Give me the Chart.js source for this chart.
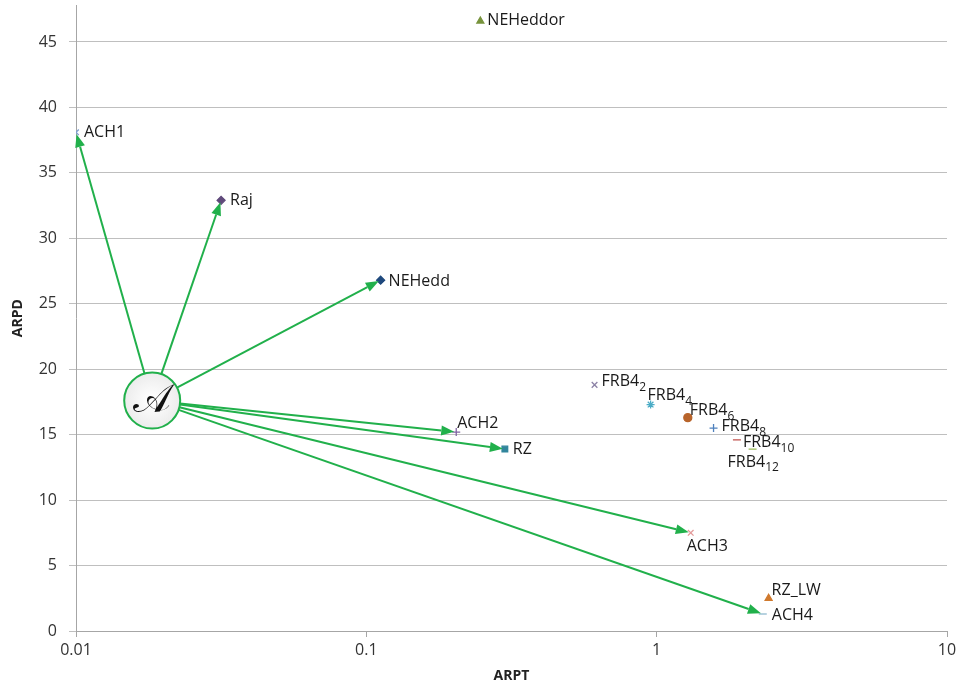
<!DOCTYPE html>
<html>
<head>
<meta charset="utf-8">
<script src="https://cdn.jsdelivr.net/npm/chart.js@4.4.0/dist/chart.umd.min.js"></script>
<style>
html, body { margin: 0; padding: 0; background: #fff; }
#wrap { width: 959px; height: 688px; }
</style>
</head>
<body>
<div id="wrap"><canvas id="chart"></canvas></div>
<script>
// point data
var labelMain = ["NEHeddor","ACH1","Raj","NEHedd","FRB4","FRB4","FRB4","FRB4","FRB4","FRB4","ACH2","RZ","ACH3","RZ_LW","ACH4"];
var labelSub  = ["","","","","2","4","6","8","10","12","","","","",""];
var arpt = [0.247, 0.01, 0.0316, 0.112, 0.611, 0.953, 1.28, 1.57, 1.89, 2.14, 0.204, 0.30, 1.31, 2.43, 2.32];
var arpd = [46.6, 38.1, 32.9, 26.8, 18.8, 17.3, 16.3, 15.5, 14.6, 13.9, 15.2, 13.9, 7.5, 2.5, 1.3];
var xTicks = [0.01, 0.1, 1, 10];

// the arrows go from the A hub to these points
var arrowTargets = ["ACH1","Raj","NEHedd","ACH2","RZ","ACH3","ACH4"];
var hubX = 0.0183, hubY = 17.6;

// marker look for each point
var markerStyle = ['triangle','crossRot','rectRot','rectRot','crossRot','star','circle','cross','line','line','cross','rect','crossRot','triangle','line'];
var markerColor = ['#77933c','#7f9fcf','#604a7b','#1f497d','#8c82a6','#4bacc6','#b8642b','#4f81bd','#c0504d','#9bbb59','#8064a2','#31859c','#e39a9a','#d07a2e','#9fc3d6'];
// label offsets in pixels from the marker
var labelDx = [7, 8, 9, 8, 7, -3, 2, 8, 6, -25, 1, 8, -4, 3, 9];
var labelDy = [-1, 0, 0, 1, -3, -9, -7, -2, 3, 13, -9, 0, 14, -8, 1];

var FONT = "'Open Sans', 'Liberation Sans', sans-serif";
var GREEN = '#21b04b';

var points = [];
for (var i = 0; i < arpt.length; i++) {
  points.push({x: arpt[i], y: arpd[i]});
}

function drawArrow(ctx, x0, y0, x1, y1) {
  var a = Math.atan2(y1 - y0, x1 - x0);
  var hl = 13, hw = 5;
  var bx = x1 - hl * Math.cos(a), by = y1 - hl * Math.sin(a);
  ctx.beginPath();
  ctx.moveTo(x0, y0);
  ctx.lineTo(bx, by);
  ctx.stroke();
  ctx.beginPath();
  ctx.moveTo(x1, y1);
  ctx.lineTo(bx + hw * Math.sin(a), by - hw * Math.cos(a));
  ctx.lineTo(bx - hw * Math.sin(a), by + hw * Math.cos(a));
  ctx.closePath();
  ctx.fill();
}

var annotate = {
  id: 'annotate',
  afterDatasetsDraw: function(chart) {
    var ctx = chart.ctx;
    var xs = chart.scales.x, ys = chart.scales.y;
    var cx = xs.getPixelForValue(hubX), cy = ys.getPixelForValue(hubY);
    var r = 28;
    ctx.save();
    // arrows
    ctx.strokeStyle = GREEN;
    ctx.fillStyle = GREEN;
    ctx.lineWidth = 2;
    for (var k = 0; k < arrowTargets.length; k++) {
      var idx = labelMain.indexOf(arrowTargets[k]);
      var tx = xs.getPixelForValue(arpt[idx]), ty = ys.getPixelForValue(arpd[idx]);
      var a = Math.atan2(ty - cy, tx - cx);
      drawArrow(ctx, cx + r * Math.cos(a), cy + r * Math.sin(a), tx - 2 * Math.cos(a), ty - 2 * Math.sin(a));
    }
    // hub circle
    var g = ctx.createRadialGradient(cx, cy, 2, cx, cy, r);
    g.addColorStop(0, '#ffffff');
    g.addColorStop(1, '#ececec');
    ctx.beginPath();
    ctx.arc(cx, cy, r, 0, Math.PI * 2);
    ctx.fillStyle = g;
    ctx.fill();
    ctx.strokeStyle = GREEN;
    ctx.lineWidth = 2;
    ctx.stroke();
    ctx.fillStyle = '#111';
    ctx.font = "40px 'DejaVu Serif', serif";
    ctx.textAlign = 'center';
    ctx.textBaseline = 'middle';
    ctx.fillText('\u{1D49C}', cx, cy + 1);
    // point labels
    ctx.textAlign = 'left';
    for (var i = 0; i < labelMain.length; i++) {
      var px = xs.getPixelForValue(arpt[i]) + labelDx[i];
      var py = ys.getPixelForValue(arpd[i]) + labelDy[i];
      ctx.fillStyle = '#1a1a1a';
      ctx.font = '16px ' + FONT;
      ctx.fillText(labelMain[i], px, py);
      if (labelSub[i]) {
        var w = ctx.measureText(labelMain[i]).width;
        ctx.font = '12px ' + FONT;
        ctx.fillText(labelSub[i], px + w, py + 6);
      }
    }
    ctx.restore();
  }
};

var ctx = document.getElementById('chart').getContext('2d');
var chart = new Chart(ctx, {
  type: 'scatter',
  data: {
    datasets: [{
      data: points,
      pointStyle: markerStyle,
      pointRadius: 4,
      pointHoverRadius: 4,
      pointBackgroundColor: markerColor,
      pointBorderColor: markerColor,
      pointBorderWidth: 1.3
    }]
  },
  options: {
    responsive: true,
    maintainAspectRatio: false,
    animation: false,
    layout: { padding: { left: 0, right: 12, top: 4, bottom: 0 } },
    plugins: {
      legend: { display: false },
      tooltip: { enabled: false }
    },
    scales: {
      x: {
        type: 'logarithmic',
        min: 0.01,
        max: 10,
        afterBuildTicks: function(s) {
          s.ticks = xTicks.map(function(v) { return {value: v, major: true}; });
        },
        afterFit: function(s) {
          s.height = 57;
          s.paddingLeft = 0;
          s.paddingRight = 0;
        },
        grid: { drawOnChartArea: false, drawTicks: true, tickLength: 6, color: '#a6a6a6' },
        border: { color: '#a6a6a6' },
        ticks: {
          color: '#333',
          font: { family: FONT, size: 16 },
          padding: 4,
          maxRotation: 0,
          callback: function(v) { return String(v); }
        },
        title: {
          display: true,
          text: 'ARPT',
          color: '#222',
          font: { family: FONT, size: 14, weight: 'bold' },
          padding: { top: 0, bottom: 4 }
        }
      },
      y: {
        min: 0,
        max: 47.8,
        afterBuildTicks: function(s) {
          s.ticks = s.ticks.filter(function(t) { return t.value <= 45; });
        },
        afterFit: function(s) {
          s.width = 76;
          s.paddingTop = 0;
          s.paddingBottom = 0;
        },
        grid: { color: '#bfbfbf', drawTicks: true, tickLength: 7 },
        border: { color: '#a6a6a6' },
        ticks: {
          stepSize: 5,
          color: '#333',
          font: { family: FONT, size: 16 },
          padding: 12
        },
        title: {
          display: true,
          text: 'ARPD',
          color: '#222',
          font: { family: FONT, size: 14, weight: 'bold' },
          padding: { top: 10, bottom: 0 }
        }
      }
    }
  },
  plugins: [annotate]
});
</script>
</body>
</html>
